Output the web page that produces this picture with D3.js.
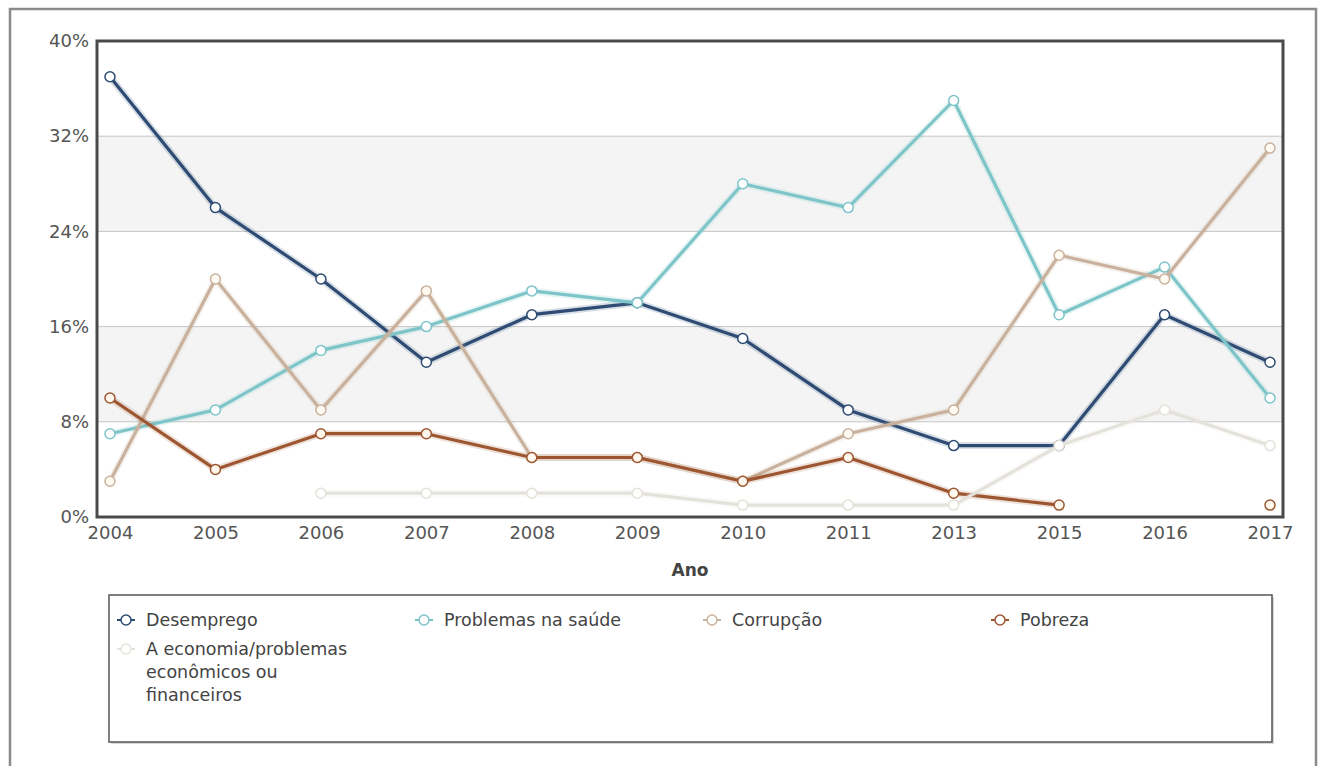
<!DOCTYPE html>
<html><head><meta charset="utf-8">
<script src="https://cdn.jsdelivr.net/npm/d3@7"></script>
<style>
html,body{margin:0;padding:0;background:#fff;}
svg{display:block;font-family:"DejaVu Sans",Verdana,sans-serif;}
</style></head>
<body>
<svg id="chart" width="1325" height="766"></svg>
<script>
const years = ["2004","2005","2006","2007","2008","2009","2010","2011","2013","2015","2016","2017"];
const yTicks = [0, 8, 16, 24, 32, 40];
const seriesNames = ["Desemprego","Problemas na saúde","Corrupção","Pobreza","A economia/problemas econômicos ou financeiros"];
const desemprego = [37, 26, 20, 13, 17, 18, 15, 9, 6, 6, 17, 13];
const saude      = [7, 9, 14, 16, 19, 18, 28, 26, 35, 17, 21, 10];
const corrupcao  = [3, 20, 9, 19, 5, 5, 3, 7, 9, 22, 20, 31];
const pobreza    = [10, 4, 7, 7, 5, 5, 3, 5, 2, 1, null, 1];
const economia   = [null, null, 2, 2, 2, 2, 1, 1, 1, 6, 9, 6];
const colors = ["#2d4b73", "#7ec5c9", "#c9b19d", "#9d5630", "#e4e2da"];
const markerFill = ["#ffffff", "#ffffff", "#fffaf2", "#fff8ee", "#ffffff"];
const legendLines = [["Desemprego"],["Problemas na saúde"],["Corrupção"],["Pobreza"],["A economia/problemas","econômicos ou","financeiros"]];

const seriesValues = [desemprego, saude, corrupcao, pobreza, economia];
const svg = d3.select("#chart");

const L = 97, R = 1283, T = 41, B = 517;
const x = d3.scalePoint().domain(years).range([L, R]).padding(0.123);
const y = d3.scaleLinear().domain([0, 40]).range([B, T]);
const FONT = "DejaVu Sans, Verdana, sans-serif";

// outer frame
svg.append("rect").attr("x", 10).attr("y", 9).attr("width", 1306).attr("height", 800)
  .attr("fill", "#fff").attr("stroke", "#8a8a8a").attr("stroke-width", 2.5);

// bands
[[8,16],[24,32]].forEach(b => {
  svg.append("rect").attr("x", L).attr("width", R - L)
    .attr("y", y(b[1])).attr("height", y(b[0]) - y(b[1])).attr("fill", "#f4f4f4");
});
// grid
svg.append("g").selectAll("line").data(yTicks.filter(d => d > 0 && d < 40)).join("line")
  .attr("x1", L).attr("x2", R).attr("y1", d => y(d)).attr("y2", d => y(d))
  .attr("stroke", "#c6c6c6").attr("stroke-width", 1);

// y axis labels
const yAxis = d3.axisLeft(y).tickValues(yTicks).tickFormat(d => d + "%").tickSize(0).tickPadding(8);
const ya = svg.append("g").attr("transform", `translate(${L},0)`).call(yAxis);
ya.select(".domain").remove();
ya.selectAll("text").attr("fill", "#555").style("font-size", "18px").style("font-family", FONT);

// x axis labels
const xAxis = d3.axisBottom(x).tickSize(0).tickPadding(9);
const xa = svg.append("g").attr("transform", `translate(0,${B})`).call(xAxis);
xa.select(".domain").remove();
xa.selectAll("text").attr("fill", "#555").style("font-size", "18px").style("font-family", FONT);

svg.append("text").attr("x", (L + R) / 2).attr("y", 576).attr("text-anchor", "middle")
  .attr("fill", "#444").style("font-size", "17px").style("font-weight", "bold").text("Ano");

// series
const line = d3.line().defined(d => d.v !== null).x(d => x(d.year)).y(d => y(d.v));
seriesValues.forEach((vals, i) => {
  const pts = years.map((yr, j) => ({year: yr, v: vals[j]}));
  const g = svg.append("g");
  g.append("path").datum(pts).attr("d", line).attr("fill", "none")
    .attr("stroke", colors[i]).attr("stroke-opacity", 0.18).attr("stroke-width", 7)
    .attr("stroke-linejoin", "round");
  g.append("path").datum(pts).attr("d", line).attr("fill", "none")
    .attr("stroke", colors[i]).attr("stroke-width", 3.2).attr("stroke-linejoin", "round");
  g.selectAll("circle").data(pts.filter(d => d.v !== null)).join("circle")
    .attr("cx", d => x(d.year)).attr("cy", d => y(d.v)).attr("r", 5)
    .attr("fill", markerFill[i]).attr("stroke", colors[i]).attr("stroke-width", 1.5);
});

// plot border
svg.append("rect").attr("x", L).attr("y", T).attr("width", R - L).attr("height", B - T)
  .attr("fill", "none").attr("stroke", "#4a4a4a").attr("stroke-width", 3);

// legend
const lg = svg.append("g");
lg.append("rect").attr("x", 111).attr("y", 597).attr("width", 1163).attr("height", 147)
  .attr("fill", "#d8d8d8");
lg.append("rect").attr("x", 109).attr("y", 595).attr("width", 1163).attr("height", 147)
  .attr("fill", "#fff").attr("stroke", "#555").attr("stroke-width", 1.5);
const legendPos = [[126, 620], [424, 620], [712, 620], [1000, 620], [126, 649]];
legendLines.forEach((lines, i) => {
  const [lx, ly] = legendPos[i];
  const it = lg.append("g").attr("transform", `translate(${lx},${ly})`);
  it.append("line").attr("x1", -9).attr("x2", 9).attr("stroke", colors[i]).attr("stroke-width", 2);
  it.append("circle").attr("r", 5).attr("fill", "#fff").attr("stroke", colors[i]).attr("stroke-width", 1.5);
  lines.forEach((t, k) => {
    it.append("text").attr("x", 20).attr("y", k * 23).attr("dy", "0.35em")
      .attr("fill", "#444").style("font-size", "17.5px").text(t);
  });
});
</script>
</body></html>
